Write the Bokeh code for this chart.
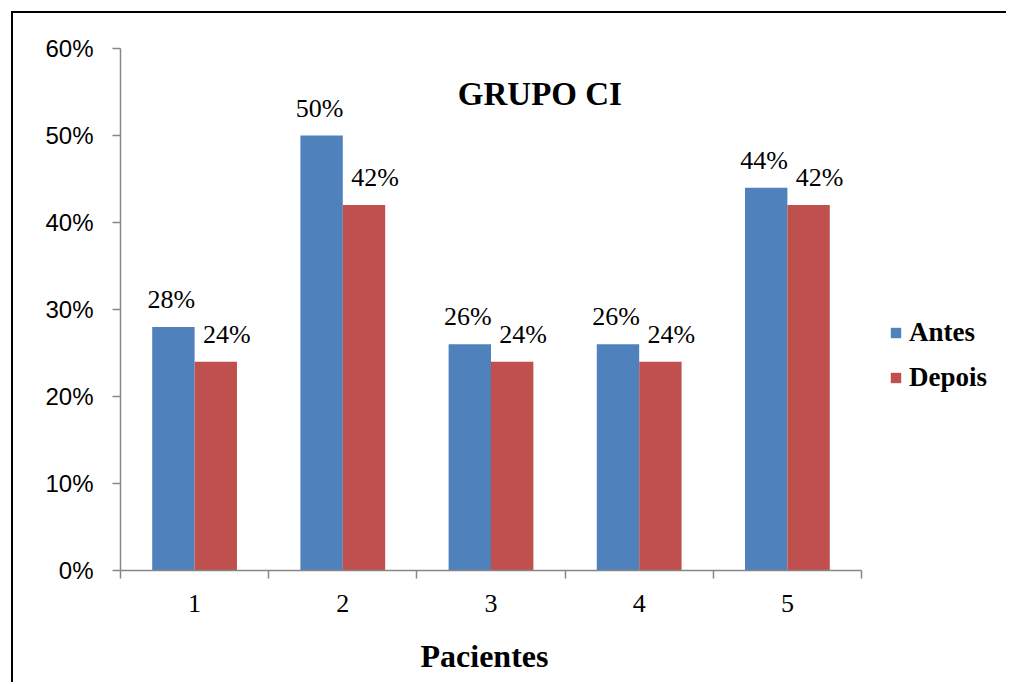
from bokeh.plotting import figure
from bokeh.models import (ColumnDataSource, FixedTicker, NumeralTickFormatter,
                          Legend, LegendItem, Label, LabelSet, Title)
from bokeh.transform import dodge
from bokeh.embed import file_html
from bokeh.resources import INLINE

pacientes = ["1", "2", "3", "4", "5"]
antes = [0.28, 0.50, 0.26, 0.26, 0.44]
depois = [0.24, 0.42, 0.24, 0.24, 0.42]
y_ticks = [0.0, 0.1, 0.2, 0.3, 0.4, 0.5, 0.6]

pos = list(range(1, len(pacientes) + 1))
src = ColumnDataSource(dict(
    x=pos,
    antes=antes,
    depois=depois,
    antes_lbl=[f"{round(v * 100)}%" for v in antes],
    depois_lbl=[f"{round(v * 100)}%" for v in depois],
))

SERIF = "Liberation Serif"
SANS = "Liberation Sans"

# extra room on the right of the data area hosts the legend
LEGEND_ROOM = 0.992
x_start = pos[0] - 0.5
x_axis_end = pos[-1] + 0.5

p = figure(width=995, height=671, output_backend="svg", toolbar_location=None,
           x_range=(x_start, x_axis_end + LEGEND_ROOM), y_range=(0, 0.6),
           min_border_left=107, min_border_right=0,
           min_border_top=35, min_border_bottom=114)
p.styles = {"margin-left": "11px", "margin-top": "11px",
            "border-top": "2px solid black", "border-left": "2px solid black"}
p.outline_line_color = None
p.xgrid.visible = False
p.ygrid.visible = False
p.background_fill_color = "white"

BLUE = "#4F81BD"
RED = "#C0504D"
AXIS = "#868686"
W = 0.286
r1 = p.vbar(x=dodge("x", -W / 2), top="antes", width=W, source=src,
            fill_color=BLUE, line_color=None)
r2 = p.vbar(x=dodge("x", W / 2), top="depois", width=W, source=src,
            fill_color=RED, line_color=None)

lbl_common = dict(text_font=SERIF, text_font_size="26px", text_color="black",
                  text_align="center", text_baseline="alphabetic", y_offset=19)
p.add_layout(LabelSet(x=dodge("x", -W / 2), y="antes", text="antes_lbl",
                      source=src, x_offset=-2, **lbl_common))
p.add_layout(LabelSet(x=dodge("x", W / 2), y="depois", text="depois_lbl",
                      source=src, x_offset=11, **lbl_common))

# axes
ax = p.xaxis[0]
ax.bounds = (x_start, x_axis_end)
ax.ticker = FixedTicker(ticks=pos, minor_ticks=[v - 0.5 for v in pos] + [pos[-1] + 0.5])
ax.major_label_overrides = {v: s for v, s in zip(pos, pacientes)}
ax.major_tick_line_color = None
ax.major_tick_out = 0
ax.major_tick_in = 0
ax.minor_tick_out = 8
ax.minor_tick_in = 0
ax.minor_tick_line_color = AXIS
ax.minor_tick_line_width = 1.5
ax.axis_line_color = AXIS
ax.axis_line_width = 1.5
ax.major_label_text_font = SERIF
ax.major_label_text_font_size = "26px"
ax.major_label_text_color = "black"
ax.major_label_standoff = 16

# x-axis title, centred under the category axis (not the legend area)
p.add_layout(Title(text="Pacientes", align="left", offset=300, standoff=0,
                   padding=dict(top=21, bottom=0, left=0, right=0),
                   text_font=SERIF, text_font_size="32px", text_font_style="bold",
                   text_color="black"), "below")

ay = p.yaxis[0]
ay.ticker = FixedTicker(ticks=y_ticks, minor_ticks=[])
ay.formatter = NumeralTickFormatter(format="0%")
ay.major_tick_out = 8
ay.major_tick_in = 0
ay.major_tick_line_color = AXIS
ay.major_tick_line_width = 1.5
ay.axis_line_color = AXIS
ay.axis_line_width = 1.5
ay.major_label_text_font = SANS
ay.major_label_text_font_size = "24px"
ay.major_label_text_color = "black"
ay.major_label_standoff = 19

# title inside the plot area
p.add_layout(Label(x=3.33, y=0.548, text="GRUPO CI", text_font=SERIF,
                   text_font_size="33px", text_font_style="bold",
                   text_align="center", text_baseline="alphabetic",
                   text_color="black"))

legend = Legend(items=[LegendItem(label="Antes", renderers=[r1]),
                       LegendItem(label="Depois", renderers=[r2])],
                location=(769, 177), orientation="vertical",
                glyph_width=13, glyph_height=13, label_standoff=7,
                spacing=14, padding=0, margin=0,
                border_line_color=None, background_fill_alpha=0,
                label_text_font=SERIF, label_text_font_size="27px",
                label_text_font_style="bold", label_text_color="black")
p.add_layout(legend)

open("out.html", "w").write(file_html(p, INLINE))
